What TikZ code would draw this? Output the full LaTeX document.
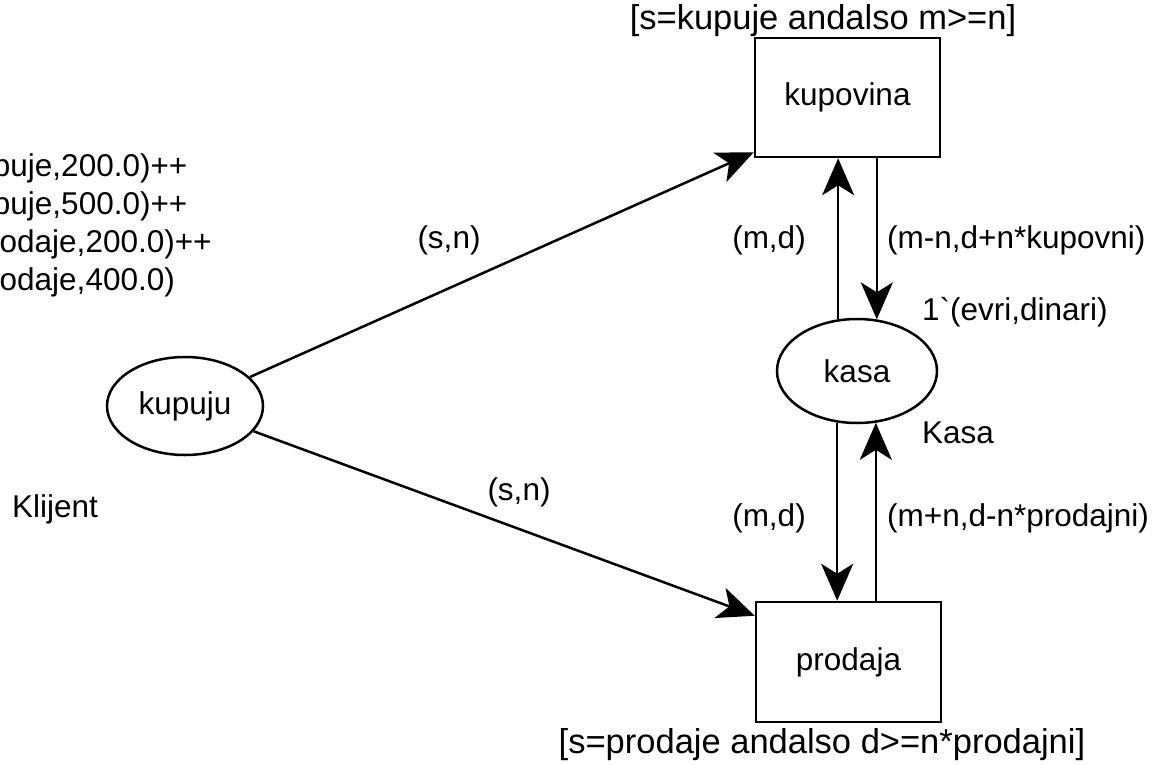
\documentclass[tikz,border=0pt]{standalone}
\usepackage{fontspec}
\setmainfont{Liberation Sans}
\usetikzlibrary{arrows.meta,shapes.geometric,calc}
\begin{document}
\begin{tikzpicture}[x=1pt,y=-1pt,
  every node/.style={font=\fontsize{31.5}{38}\selectfont},
  trans/.style={draw,line width=2.5pt,minimum width=185pt,inner sep=0},
  place/.style={draw,ellipse,line width=2.5pt,inner sep=0},
  arc/.style={line width=2.5pt,-{Stealth[length=37pt,width=32pt,inset=10pt]}},
  lbl/.style={anchor=base,inner sep=0},
  guard/.style={anchor=base,inner sep=0,font=\fontsize{34.5}{40}\selectfont}]
\useasboundingbox (0,0) rectangle (1163,764);
\fill[white] (0,0) rectangle (1163,764);
\node[trans,minimum height=119pt] (kupovina) at (847.5,97.5) {kupovina};
\node[trans,minimum height=120pt] (prodaja) at (848.5,662) {prodaja};
\node[place,minimum width=160pt,minimum height=104pt] (kasa) at (857,371) {kasa};
\node[place,minimum width=156pt,minimum height=98pt] (kupuju) at (185,406) {kupuju};
\coordinate (k1) at ($(kupovina.south west)+(0,-6)$);
\coordinate (p1) at ($(prodaja.north west)+(0,15)$);
\draw[arc] (kupuju) -- (k1);
\draw[arc] (kupuju) -- (p1);
\draw[arc] (kasa.110.6) -- (kasa.110.6 |- kupovina.south);
\draw[arc] (kupovina.south -| kasa.69.4) -- (kasa.69.4);
\draw[arc] (kasa.249.4) -- (kasa.249.4 |- prodaja.north);
\draw[arc] (prodaja.north -| kasa.290.6) -- (kasa.290.6);
\node[guard] (g1) at (823,29) {[s=kupuje andalso m>=n]};
\node[guard] (g2) at (822,753) {[s=prodaje andalso d>=n*prodajni]};
\node[lbl] (a1) at (449,248) {(s,n)};
\node[lbl] (a2) at (519,500) {(s,n)};
\node[lbl] (a3) at (769,248) {(m,d)};
\node[lbl] (a4) at (769,526) {(m,d)};
\node[lbl,anchor=base west] (a5) at (887,248) {(m-n,d+n*kupovni)};
\node[lbl,anchor=base west] (a6) at (887,526) {(m+n,d-n*prodajni)};
\node[lbl,anchor=base west] (i1) at (922,320) {1\textasciigrave(evri,dinari)};
\node[lbl,anchor=base west] (c1) at (922,443) {Kasa};
\node[lbl,anchor=base west] (c2) at (12,517) {Klijent};
\node[lbl,anchor=base west] (m1) at (-79,176) {1\textasciigrave(kupuje,200.0)++};
\node[lbl,anchor=base west] (m2) at (-79,214) {1\textasciigrave(kupuje,500.0)++};
\node[lbl,anchor=base west] (m3) at (-67,252) {1\textasciigrave(prodaje,200.0)++};
\node[lbl,anchor=base west] (m4) at (-67,290) {1\textasciigrave(prodaje,400.0)};
\end{tikzpicture}
\end{document}
